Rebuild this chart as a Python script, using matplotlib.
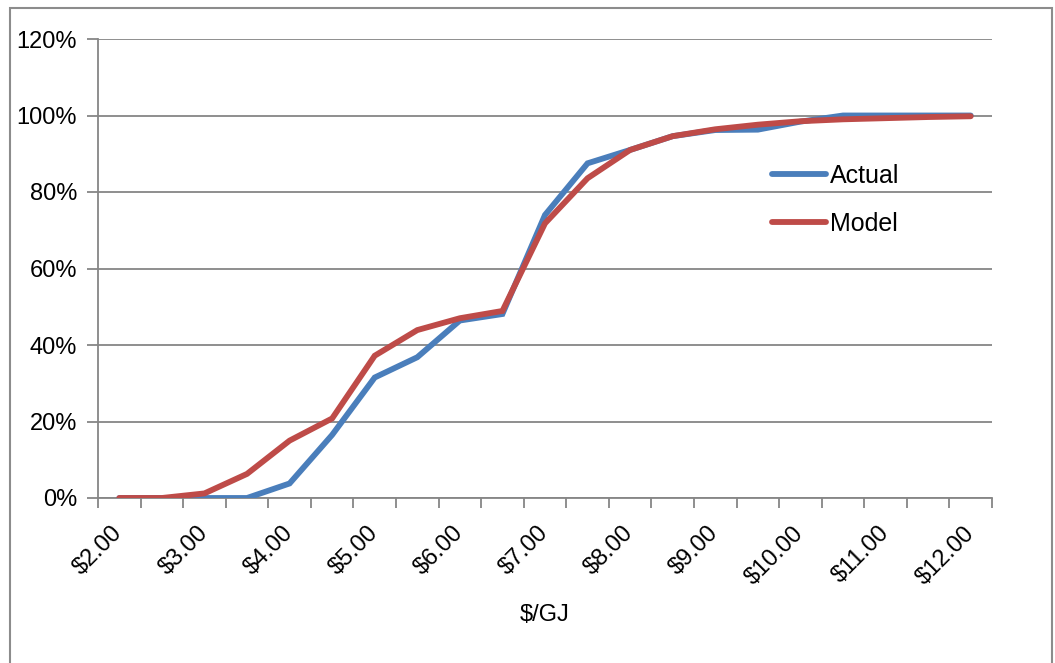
import matplotlib
matplotlib.use("Agg")
import matplotlib.pyplot as plt
from matplotlib.patches import Rectangle
from matplotlib.ticker import FixedLocator, PercentFormatter

prices = [2.00, 2.50, 3.00, 3.50, 4.00, 4.50, 5.00, 5.50, 6.00, 6.50, 7.00,
          7.50, 8.00, 8.50, 9.00, 9.50, 10.00, 10.50, 11.00, 11.50, 12.00]
actual = [0.0, 0.0, 0.0, 0.0, 3.8, 16.5, 31.5, 36.8, 46.4, 48.1, 74.0,
          87.5, 91.0, 94.6, 96.2, 96.3, 98.4, 100.0, 100.0, 100.0, 100.0]
model = [0.0, 0.0, 1.2, 6.3, 15.0, 20.8, 37.2, 43.9, 47.0, 48.9, 71.8,
         83.6, 91.0, 94.6, 96.4, 97.6, 98.5, 99.0, 99.3, 99.6, 99.8]
series_names = ["Actual", "Model"]
x_title = "$/GJ"

plt.rcParams["font.family"] = ["Liberation Sans", "DejaVu Sans"]

W, H = 1055, 663
fig = plt.figure(figsize=(W / 100, H / 100), dpi=100)
fig.patch.set_facecolor("white")

# chart-area frame
fig.add_artist(Rectangle((10 / W, -0.05), (1052 - 10) / W, 1 - 8 / H + 0.05,
                         transform=fig.transFigure, fill=False,
                         edgecolor="#8c8c8c", linewidth=1.5))

ax = fig.add_axes([98 / W, 1 - 498 / H, (992 - 98) / W, (498 - 39) / H])

grid_c = "#868686"
x = list(range(len(prices)))
ax.plot(x, actual, color="#4a7ebb", lw=4.2, solid_capstyle="round",
        solid_joinstyle="miter", label=series_names[0], zorder=3)
ax.plot(x, model, color="#be4b48", lw=4.2, solid_capstyle="round",
        solid_joinstyle="miter", label=series_names[1], zorder=4)

ax.set_xlim(-0.5, len(prices) - 0.5)
ax.set_ylim(0, 120)

# y axis
ax.yaxis.set_major_locator(FixedLocator([0, 20, 40, 60, 80, 100, 120]))
ax.yaxis.set_major_formatter(PercentFormatter(decimals=0))
ax.grid(axis="y", color=grid_c, lw=1.3)
ax.set_axisbelow(True)
ax.tick_params(axis="y", length=8, width=1.3, color=grid_c, labelsize=17,
               pad=7, labelcolor="black")

# x axis: tick marks on category boundaries, labels on every other category
ax.xaxis.set_minor_locator(FixedLocator([i - 0.5 for i in range(len(prices) + 1)]))
ax.xaxis.set_major_locator(FixedLocator(x[::2]))
ax.set_xticklabels([f"${p:.2f}" for p in prices[::2]], rotation=45,
                   ha="right", va="center", rotation_mode="anchor")
ax.tick_params(axis="x", which="major", length=0, labelsize=17, pad=23)
ax.tick_params(axis="x", which="minor", length=7, width=1.3, color=grid_c)

for s in ["top", "right"]:
    ax.spines[s].set_visible(False)
for s in ["left", "bottom"]:
    ax.spines[s].set_color(grid_c)
    ax.spines[s].set_linewidth(1.3)

fig.text(545 / W, 1 - 615 / H, x_title, ha="center", va="center", fontsize=17)

leg = ax.legend(loc="upper left", bbox_to_anchor=(0.740, 0.755), frameon=False,
                fontsize=18, handlelength=2.15, handletextpad=0.15,
                labelspacing=0.95, borderpad=0)

fig.savefig("out.png", dpi=100, facecolor="white")
